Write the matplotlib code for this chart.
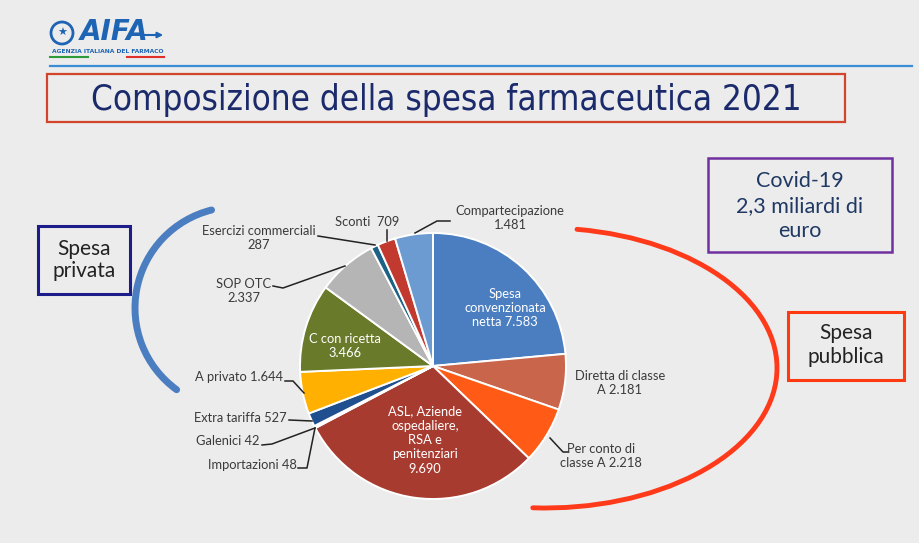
import matplotlib
matplotlib.use("Agg")
import matplotlib.pyplot as plt
from matplotlib.patches import Rectangle, Arc, Circle

# ---------------- data ----------------
categories = [
    "Spesa convenzionata netta", "Diretta di classe A", "Per conto di classe A",
    "ASL, Aziende ospedaliere, RSA e penitenziari", "Importazioni", "Galenici",
    "Extra tariffa", "A privato", "C con ricetta", "SOP OTC",
    "Esercizi commerciali", "Sconti", "Compartecipazione",
]
values = [7583, 2181, 2218, 9690, 48, 42, 527, 1644, 3466, 2337, 287, 709, 1481]
value_labels = ["7.583", "2.181", "2.218", "9.690", "48", "42", "527",
                "1.644", "3.466", "2.337", "287", "709", "1.481"]
colors = ["#4a7ec0", "#c9654b", "#ff5b17", "#a83b2f", "#8c2a22", "#5a5a5a",
          "#1f4f8e", "#ffb000", "#6a7a2b", "#b5b5b5", "#1b6284", "#c23a2f",
          "#6c9bd2"]
title = "Composizione della spesa farmaceutica 2021"
covid_note = "Covid-19\n2,3 miliardi di\neuro"

W, H = 920, 543
BG = "#ececec"
LBL = "#3a3a3a"
FONT = "Lato"

fig = plt.figure(figsize=(W / 100, H / 100), dpi=100, facecolor=BG)
ax = fig.add_axes([0, 0, 1, 1])
ax.set_facecolor(BG)


def Y(y):
    return H - y


# ---------------- pie ----------------
ax.pie(values, colors=colors, startangle=90, counterclock=False,
       center=(433, Y(366)), radius=133, frame=True,
       wedgeprops=dict(edgecolor="white", linewidth=1.4))
ax.set_xlim(0, W)
ax.set_ylim(0, H)
ax.set_aspect("equal")
ax.axis("off")

# ---------------- header ----------------
ax.add_patch(Circle((62, Y(33)), 11, facecolor="none", edgecolor="#1e64b4", lw=2))
ax.text(62, Y(33), "★", color="#1e64b4", fontsize=8, ha="center", va="center")
ax.text(80, Y(32), "AIFA", color="#1e64b4", fontsize=20, fontweight="bold",
        style="italic", family="DejaVu Sans", ha="left", va="center")
ax.annotate("", xy=(166, Y(35)), xytext=(140, Y(35)),
            arrowprops=dict(arrowstyle="-|>", color="#1e64b4", lw=1.5, mutation_scale=8))
ax.text(108, Y(51), "AGENZIA ITALIANA DEL FARMACO", color="#1e64b4", fontsize=4.3,
        fontweight="bold", ha="center", va="center", family="DejaVu Sans")
ax.plot([50, 88], [Y(57), Y(57)], color="#2e9a3a", lw=1.5)
ax.plot([127, 164], [Y(57), Y(57)], color="#e0302a", lw=1.5)
ax.plot([50, 912], [Y(66), Y(66)], color="#3a8ed8", lw=1.6)

# title box
ax.add_patch(Rectangle((47, Y(122)), 798, 48, facecolor="none",
                       edgecolor="#d2452a", lw=1.6))
ax.text(446, Y(100), title, color="#1b2a6b", fontsize=25, ha="center",
        va="center", family="DejaVu Sans", fontstretch="condensed")

# ---------------- side boxes and arcs ----------------
ax.add_patch(Rectangle((38, Y(294)), 92, 68, facecolor="none",
                       edgecolor="#1c1c8a", lw=2.2))
ax.text(84, Y(260), "Spesa\nprivata", color="#222222", fontsize=15, ha="center",
        va="center", family=FONT, linespacing=1.15)

ax.add_patch(Rectangle((788, Y(380)), 116, 68, facecolor="none",
                       edgecolor="#ff3a10", lw=2.2))
ax.text(846, Y(345), "Spesa\npubblica", color="#222222", fontsize=15, ha="center",
        va="center", family=FONT, linespacing=1.2)

ax.add_patch(Rectangle((708, Y(252)), 184, 94, facecolor="none",
                       edgecolor="#7030a0", lw=1.8))
ax.text(800, Y(206), covid_note, color="#1f3864", fontsize=15.5, ha="center",
        va="center", family=FONT, linespacing=1.3)

ax.add_patch(Arc((236, Y(308)), 202, 202, theta1=104, theta2=234,
                 color="#4a7ec0", lw=5, capstyle="round"))
ax.add_patch(Arc((545, Y(368)), 464, 280, theta1=-95, theta2=77,
                 color="#ff3a1a", lw=3.5, capstyle="round"))

# ---------------- labels ----------------
fs = 9.3
# inside labels
ax.text(505, Y(308), "Spesa\nconvenzionata\nnetta " + value_labels[0], color="white",
        fontsize=fs, ha="center", va="center", family=FONT, linespacing=1.25)
ax.text(425, Y(440), "ASL, Aziende\nospedaliere,\nRSA e\npenitenziari\n" + value_labels[3],
        color="white", fontsize=fs, ha="center", va="center", family=FONT,
        linespacing=1.25)
ax.text(345, Y(346), "C con ricetta\n" + value_labels[8], color="white", fontsize=fs,
        ha="center", va="center", family=FONT, linespacing=1.25)

# outside labels
ax.text(620, Y(383), "Diretta di classe\nA " + value_labels[1], color=LBL, fontsize=fs,
        ha="center", va="center", family=FONT, linespacing=1.25)
ax.text(601, Y(456), "Per conto di\nclasse A " + value_labels[2], color=LBL,
        fontsize=fs, ha="center", va="center", family=FONT, linespacing=1.25)
ax.plot([550, 563, 568], [Y(438), Y(452), Y(452)], color="#222222", lw=1.1)

ax.text(510, Y(218), "Compartecipazione\n" + value_labels[12], color=LBL, fontsize=fs,
        ha="center", va="center", family=FONT, linespacing=1.25)
ax.plot([415, 437, 450], [Y(233), Y(221), Y(221)], color="#222222", lw=1.1)

ax.text(367, Y(222), "Sconti  " + value_labels[11], color=LBL, fontsize=fs,
        ha="center", va="center", family=FONT)
ax.plot([387, 387], [Y(230), Y(241)], color="#222222", lw=1.1)

ax.text(259, Y(238), "Esercizi commerciali\n" + value_labels[10], color=LBL,
        fontsize=fs, ha="center", va="center", family=FONT, linespacing=1.25)
ax.plot([318, 375], [Y(236), Y(245)], color="#222222", lw=1.1)

ax.text(244, Y(291), "SOP OTC\n" + value_labels[9], color=LBL, fontsize=fs,
        ha="center", va="center", family=FONT, linespacing=1.25)
ax.plot([273, 283, 345], [Y(286), Y(288), Y(266)], color="#222222", lw=1.1)

ax.text(283, Y(377), "A privato " + value_labels[7], color=LBL, fontsize=fs,
        ha="right", va="center", family=FONT)
ax.plot([285, 293, 304], [Y(381), Y(381), Y(393)], color="#222222", lw=1.1)

ax.text(287, Y(418), "Extra tariffa " + value_labels[6], color=LBL, fontsize=fs,
        ha="right", va="center", family=FONT)
ax.plot([289, 312], [Y(420), Y(421)], color="#222222", lw=1.1)

ax.text(260, Y(441), "Galenici " + value_labels[5], color=LBL, fontsize=fs,
        ha="right", va="center", family=FONT)
ax.plot([262, 272, 315], [Y(445), Y(444), Y(428)], color="#222222", lw=1.1)

ax.text(297, Y(465), "Importazioni " + value_labels[4], color=LBL, fontsize=fs,
        ha="right", va="center", family=FONT)
ax.plot([298, 307, 315], [Y(468), Y(468), Y(428)], color="#222222", lw=1.1)

fig.savefig("out.png", dpi=100, facecolor=BG)
